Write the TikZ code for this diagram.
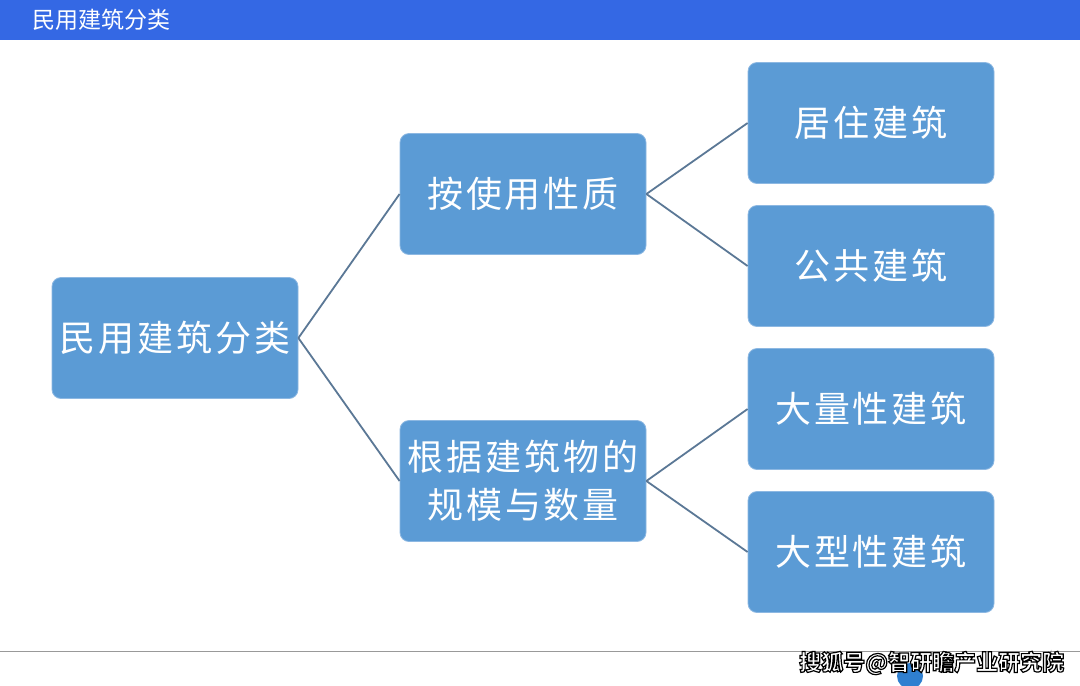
\documentclass[tikz,border=0pt]{standalone}
\usepackage{fontspec}
\newfontfamily\cjk[LetterSpace=8]{Noto Sans CJK SC}
\newfontfamily\cjkt{Noto Sans CJK SC}
\definecolor{barblue}{HTML}{3468E4}
\definecolor{boxblue}{HTML}{5B9BD5}
\definecolor{boxedge}{HTML}{8DB8E2}
\definecolor{linkc}{HTML}{5B7896}
\definecolor{logoblue}{HTML}{2F7FD0}
\newcommand{\outlinedtext}[1]{%
  \special{pdf:code q 2 Tr 1.2 w 0 G 1 g}#1\special{pdf:code Q}}
\tikzset{
  box/.style={rectangle, rounded corners=9pt, fill=boxblue, draw=boxedge, line width=0.8pt,
    minimum width=246pt, minimum height=121pt, text=white, font=\cjk\fontsize{36}{44}\selectfont,
    align=center, inner sep=2pt},
  link/.style={draw=linkc, line width=1.8pt},
}
\begin{document}
\begin{tikzpicture}[x=1pt,y=-1pt]
\useasboundingbox (0,0) rectangle (1080,686);
\fill[white] (0,0) rectangle (1080,686);
% top bar
\fill[barblue] (0,0) rectangle (1080,40);
\node[anchor=west, text=white, font=\cjkt\fontsize{23}{26}\selectfont, inner sep=0pt] (title) at (32,20) {民用建筑分类};
% boxes
\node[box] (root) at (175,338) {民用建筑分类};
\node[box] (use) at (523,194) {按使用性质};
\node[box, font=\cjk\fontsize{36}{48}\selectfont] (scale) at (523,481) {根据建筑物的\\规模与数量};
\node[box] (res) at (871,123) {居住建筑};
\node[box] (pub) at (871,266) {公共建筑};
\node[box] (mass) at (871,409) {大量性建筑};
\node[box] (large) at (871,552) {大型性建筑};
% connectors
\draw[link] (root.east) -- (use.west);
\draw[link] (root.east) -- (scale.west);
\draw[link] (use.east) -- (res.west);
\draw[link] (use.east) -- (pub.west);
\draw[link] (scale.east) -- (mass.west);
\draw[link] (scale.east) -- (large.west);
% bottom
\draw[draw=gray!80, line width=1pt] (0,651) coordinate (bl) -- (1080,651) coordinate (br);
\begin{scope}
\clip (880,652) rectangle (940,686);
\fill[logoblue] (910,676) circle (13);
\end{scope}
\node[anchor=west, font=\cjkt\bfseries\fontsize{22}{24}\selectfont, inner sep=0pt] (src) at (799,663) {\outlinedtext{搜狐号@智研瞻产业研究院}};
\end{tikzpicture}
\end{document}
